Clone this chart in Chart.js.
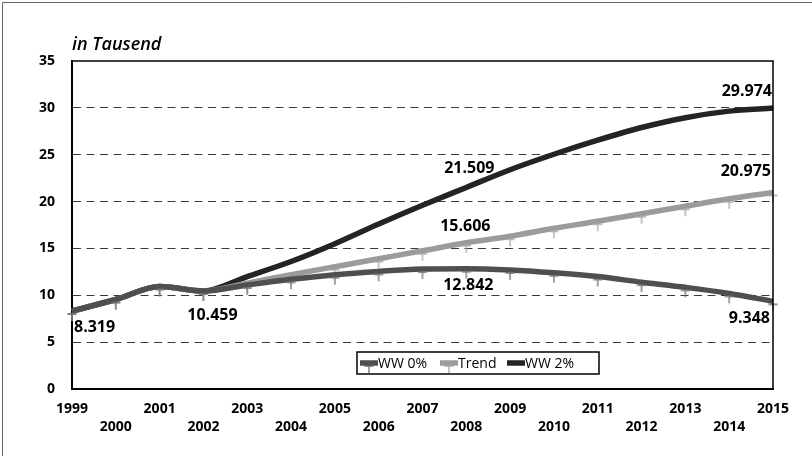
<!DOCTYPE html>
<html><head><meta charset="utf-8">
<script src="https://cdn.jsdelivr.net/npm/chart.js@4.4.0/dist/chart.umd.min.js"></script>
<style>html,body{margin:0;padding:0;background:#fff;}#wrap{width:812px;height:456px;}</style>
</head><body><div id="wrap"><canvas id="c" width="812" height="456"></canvas></div>
<script>
const years = ['1999','2000','2001','2002','2003','2004','2005','2006','2007','2008','2009','2010','2011','2012','2013','2014','2015'];
const seriesNames = ['WW 0%', 'Trend', 'WW 2%'];
const ww0   = [8.319, 9.55, 10.95, 10.459, 11.1, 11.7, 12.2, 12.55, 12.8, 12.842, 12.7, 12.4, 12.0, 11.4, 10.85, 10.2, 9.348];
const trend = [8.319, 9.55, 10.95, 10.459, 11.3, 12.2, 13.05, 13.9, 14.75, 15.606, 16.3, 17.15, 17.9, 18.7, 19.5, 20.3, 20.975];
const ww2   = [8.319, 9.55, 10.95, 10.459, 12.0, 13.6, 15.5, 17.6, 19.6, 21.509, 23.4, 25.05, 26.55, 27.9, 28.95, 29.65, 29.974];
const yTicks = [0, 5, 10, 15, 20, 25, 30, 35];
const unitTitle = 'in Tausend';
// which points carry a value label: [series, index]
const labelled = [[0,0],[0,3],[0,9],[1,9],[2,9],[2,16],[1,16],[0,16]];

// styles
const lineColors = ['#4f4f4f', '#9b9b9b', '#242424'];
const markColors = ['#707070', '#a8a8a8', '#242424'];
const markerSizes = [5, 5, 0];
const labelOffsets = { // dx, dy, align
  '0,0': [2, 16, 'left'], '0,3': [9, 24, 'center'], '0,9': [2, 17, 'center'],
  '1,9': [-1, -16, 'center'], '2,9': [3, -19, 'center'], '2,16': [-1, -17, 'right'],
  '1,16': [-2, -21, 'right'], '0,16': [-3, 17, 'right']
};
const FONT = '"Open Sans", "DejaVu Sans", sans-serif';

function makeMarker(color) {
  const c = document.createElement('canvas');
  c.width = 12; c.height = 24;
  const g = c.getContext('2d');
  g.strokeStyle = color; g.lineWidth = 1.3;
  g.beginPath();
  g.moveTo(1.5, 15); g.lineTo(10.5, 15);
  g.moveTo(6, 15); g.lineTo(6, 22);
  g.stroke();
  return c;
}
const markers = markColors.map(makeMarker);
const seriesData = [ww0, trend, ww2];

const xLabels = years.map((y, i) => i % 2 === 0 ? [y, ''] : ['', y]);

const extras = {
  id: 'extras',
  afterDatasetsDraw(chart) {
    const ctx = chart.ctx, ca = chart.chartArea;
    const xs = chart.scales.x, ys = chart.scales.y;
    ctx.save();
    // plot frame top/right
    ctx.strokeStyle = '#000'; ctx.lineWidth = 1.5;
    ctx.beginPath();
    ctx.moveTo(ca.left, ca.top); ctx.lineTo(ca.right, ca.top); ctx.lineTo(ca.right, ca.bottom);
    ctx.stroke();
    // value labels
    ctx.fillStyle = '#000';
    ctx.font = 'bold 16px ' + FONT;
    ctx.textBaseline = 'middle';
    labelled.forEach(([s, i]) => {
      const v = seriesData[s][i];
      const o = labelOffsets[s + ',' + i];
      const px = xs.getPixelForValue(i) + o[0];
      const py = ys.getPixelForValue(v) + o[1];
      ctx.textAlign = o[2];
      ctx.fillText(v.toFixed(3), px, py);
    });
    // legend
    const lx = 357, ly = 352, lw = 242, lh = 22;
    ctx.fillStyle = '#fff';
    ctx.fillRect(lx, ly, lw, lh);
    ctx.strokeStyle = '#000'; ctx.lineWidth = 1.5;
    ctx.strokeRect(lx, ly, lw, lh);
    ctx.font = '14px ' + FONT;
    ctx.textAlign = 'left';
    const itemX = [360, 440, 507];
    const cy = ly + lh / 2;
    seriesNames.forEach((n, k) => {
      const x0 = itemX[k];
      if (markerSizes[k] > 0) ctx.drawImage(markers[k], x0 + 9 - 6, cy - 12);
      ctx.strokeStyle = lineColors[k]; ctx.lineWidth = 5.5;
      ctx.beginPath(); ctx.moveTo(x0, cy); ctx.lineTo(x0 + 18, cy); ctx.stroke();
      ctx.fillStyle = '#000';
      ctx.fillText(n, x0 + 18, cy + 1);
    });
    ctx.restore();
  },
  afterDraw(chart) {
    const ctx = chart.ctx, ca = chart.chartArea;
    ctx.save();
    ctx.fillStyle = '#000';
    ctx.font = 'italic 600 18px ' + FONT;
    ctx.textAlign = 'left'; ctx.textBaseline = 'middle';
    ctx.fillText(unitTitle, ca.left, 45);
    // outer frame
    ctx.strokeStyle = '#666'; ctx.lineWidth = 1;
    ctx.beginPath();
    ctx.moveTo(2.5, 456); ctx.lineTo(2.5, 2.5); ctx.lineTo(812, 2.5);
    ctx.stroke();
    ctx.restore();
  }
};

new Chart(document.getElementById('c'), {
  type: 'line',
  data: {
    labels: xLabels,
    datasets: seriesData.map((d, k) => ({
      label: seriesNames[k],
      data: d,
      borderColor: lineColors[k],
      backgroundColor: lineColors[k],
      borderWidth: 5.5,
      tension: 0.3,
      cubicInterpolationMode: 'monotone',
      pointStyle: markers[k],
      pointRadius: markerSizes[k],
      pointHoverRadius: markerSizes[k],
      fill: false
    }))
  },
  options: {
    responsive: false,
    animation: false,
    devicePixelRatio: 1,
    layout: { padding: { left: 0, top: 61, right: 39, bottom: 0 } },
    plugins: { legend: { display: false }, tooltip: { enabled: false }, title: { display: false } },
    scales: {
      x: {
        type: 'category',
        offset: false,
        grid: { display: false, drawTicks: false, tickLength: 0 },
        border: { display: true, color: '#000', width: 2 },
        ticks: {
          autoSkip: false, maxRotation: 0, minRotation: 0, padding: 11,
          color: '#000', font: { family: FONT, weight: 'bold', size: 14, lineHeight: 1.3 }
        },
        afterFit(s) { s.height = 67; }
      },
      y: {
        min: 0, max: 35,
        afterBuildTicks(s) { s.ticks = yTicks.map(v => ({ value: v })); },
        grid: {
          drawTicks: false, tickLength: 0, lineWidth: 1,
          color: (c) => (c.tick && (c.tick.value === 0 || c.tick.value === 35)) ? 'rgba(0,0,0,0)' : '#3a3a3a'
        },
        border: { display: true, color: '#000', width: 2, dash: [8, 5.5] },
        ticks: {
          padding: 17, color: '#000',
          font: { family: FONT, weight: 'bold', size: 14 },
          callback: (v) => String(v)
        },
        afterFit(s) { s.width = 72; }
      }
    }
  },
  plugins: [extras]
});
</script>
</body></html>
